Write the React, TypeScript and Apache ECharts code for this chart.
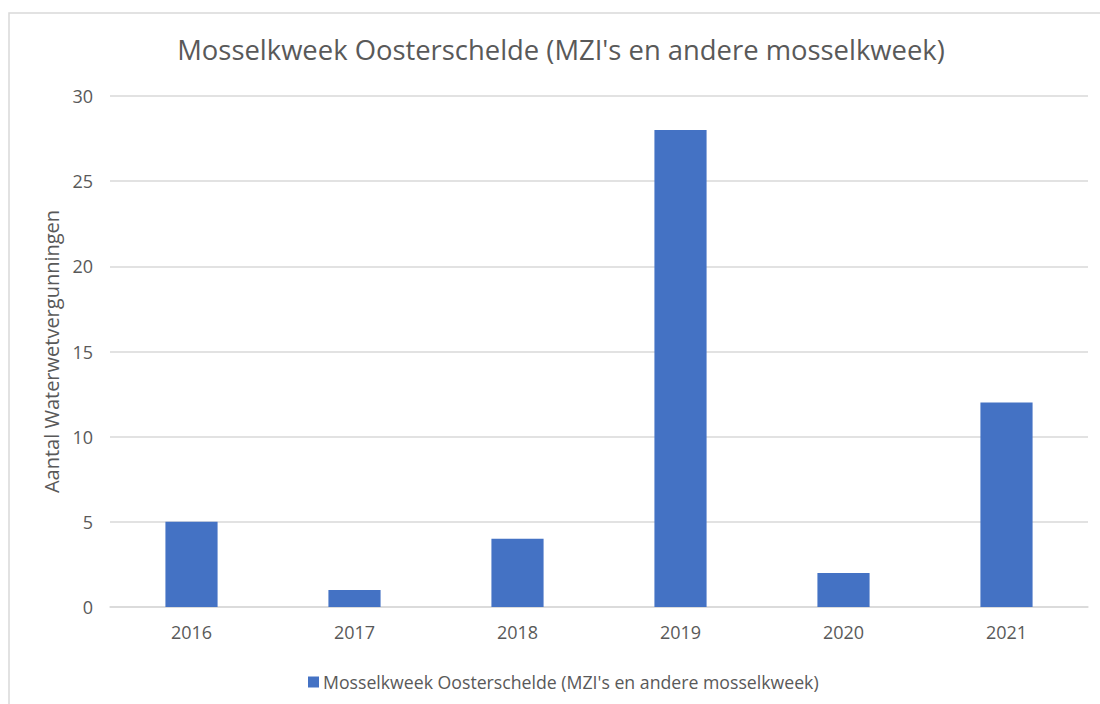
import React, { useEffect, useRef } from "react";
import * as echarts from "echarts";

const categories = ["2016", "2017", "2018", "2019", "2020", "2021"];
const values = [5, 1, 4, 28, 2, 12];
const seriesName = "Mosselkweek Oosterschelde (MZI's en andere mosselkweek)";
const titleText = "Mosselkweek Oosterschelde (MZI's en andere mosselkweek)";
const yAxisName = "Aantal Waterwetvergunningen";

export default function App() {
  const ref = useRef<HTMLDivElement>(null);
  useEffect(() => {
    if (!ref.current) return;
    const chart = echarts.init(ref.current, null, { renderer: "svg" });
    const font = "'Open Sans', 'Noto Sans', sans-serif";
    chart.setOption({
      animation: false,
      backgroundColor: "#ffffff",
      textStyle: { fontFamily: font },
      graphic: [
        {
          type: "rect",
          shape: { x: 9, y: 13, width: 1200, height: 800 },
          style: { fill: "none", stroke: "#D9D9D9", lineWidth: 1.5 },
          silent: true,
        },
      ],
      title: {
        text: titleText,
        left: 556,
        textAlign: "center",
        top: 31,
        textStyle: { fontSize: 27.4, fontWeight: "normal", color: "#595959", fontFamily: font },
      },
      grid: { left: 110, right: 12, top: 96, bottom: 97 },
      legend: {
        left: 303,
        top: 668,
        icon: "rect",
        itemWidth: 11,
        itemHeight: 11,
        itemGap: 4,
        textStyle: { fontSize: 17.7, color: "#595959", fontFamily: font, padding: [0, 0, 0, -1] },
        data: [seriesName],
      },
      xAxis: {
        type: "category",
        data: categories,
        axisLine: { show: true, lineStyle: { color: "#D9D9D9", width: 1.5 } },
        axisTick: { show: false },
        axisLabel: { fontSize: 18, color: "#595959", margin: 16, fontFamily: font },
      },
      yAxis: {
        type: "value",
        min: 0,
        max: 30,
        interval: 5,
        name: yAxisName,
        nameLocation: "middle",
        nameGap: 42,
        nameTextStyle: { fontSize: 20, color: "#595959", fontFamily: font },
        axisLine: { show: false },
        axisTick: { show: false },
        axisLabel: { fontSize: 18, color: "#595959", margin: 17, fontFamily: font },
        splitLine: { lineStyle: { color: "#D9D9D9", width: 1.5 } },
      },
      series: [
        {
          name: seriesName,
          type: "bar",
          data: values,
          barWidth: "32%",
          itemStyle: { color: "#4472C4" },
        },
      ],
    });
    return () => chart.dispose();
  }, []);
  return (
    <div
      ref={ref}
      style={{ position: "fixed", left: 0, top: 0, width: 1100, height: 704 }}
    />
  );
}
